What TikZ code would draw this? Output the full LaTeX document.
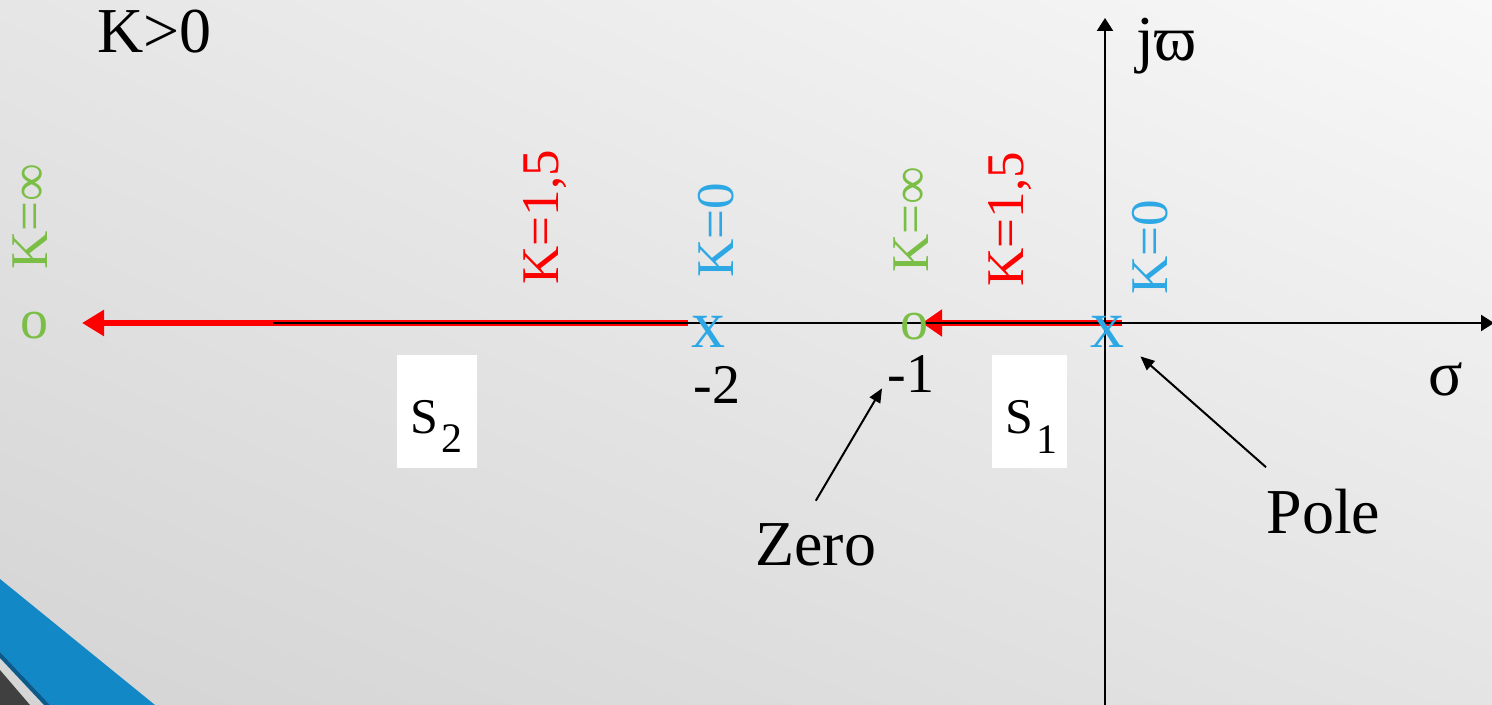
\documentclass[tikz,border=0pt]{standalone}
\usepackage{fontspec}
\setmainfont{Liberation Serif}
\usetikzlibrary{arrows.meta,shadings}
\definecolor{rlgreen}{RGB}{122,190,70}
\definecolor{rlblue}{RGB}{45,168,228}
\definecolor{rlred}{RGB}{255,0,0}
\definecolor{bandblue}{RGB}{18,136,198}
\definecolor{banddark}{RGB}{10,90,140}
\definecolor{cornergray}{RGB}{64,64,64}
\definecolor{bgul}{RGB}{230,230,230}
\definecolor{bgur}{RGB}{248,248,248}
\definecolor{bgll}{RGB}{212,212,212}
\definecolor{bglr}{RGB}{228,228,228}
\begin{document}
\begin{tikzpicture}[x=0.5pt,y=-0.5pt,
  txt/.style={inner sep=0pt, anchor=base west, font=\fontsize{32}{38}\selectfont},
  numlab/.style={inner sep=0pt, anchor=base west, font=\fontsize{28}{34}\selectfont},
  rotlab/.style={inner sep=0pt, rotate=90, anchor=base west, font=\fontsize{26.5}{30}\selectfont},
  zmark/.style={inner sep=0pt, anchor=base, text=rlgreen, font=\fontsize{28}{34}\selectfont},
  pmark/.style={inner sep=0pt, anchor=base, text=rlblue, font=\fontsize{34}{40}\selectfont},
  sbox/.style={fill=white, draw=none, minimum height=56.5pt, inner sep=0pt},
  axisline/.style={line width=1.1pt, black},
  locus/.style={line width=3pt, rlred, -{Triangle[length=11pt,width=12.5pt]}},
  pointer/.style={line width=1pt, black, -{Triangle[length=7pt,width=6pt]}}]
\useasboundingbox (0,0) rectangle (1492,705);
% background
\shade[upper left=bgul, upper right=bgur, lower left=bgll, lower right=bglr] (0,0) rectangle (1492,705);
% corner decoration
\fill[bandblue] (0,579) -- (155,705) -- (50,705) -- (0,652) -- cycle;
\fill[banddark] (0,652) -- (50,705) -- (44,705) -- (0,658) -- cycle;
\fill[cornergray] (0,670) -- (30,705) -- (0,705) -- cycle;

% axis coordinates
\coordinate (hstart) at (273,323);
\coordinate (hend) at (1494,323);
\coordinate (vbot) at (1105,710);
\coordinate (vtop) at (1105,18);
\coordinate (l2start) at (688,323);
\coordinate (l2tip) at (82,323);
\coordinate (l1start) at (1122,323);
\coordinate (l1tip) at (922,323);

% root locus branches
\draw[locus] (l2start) -- (l2tip);
\draw[locus, -{Triangle[length=10pt,width=13pt]}] (l1start) -- (l1tip);

% axes
\draw[axisline, -{Triangle[length=6.5pt,width=8pt]}] (hstart) -- (hend);
\draw[axisline, -{Triangle[length=6.5pt,width=8pt]}] (vbot) -- (vtop);

% poles and zeros
\node[zmark] (zinf) at (34,338) {o};
\node[zmark] (z1) at (914,340) {o};
\node[pmark] (p2) at (708,348) {x};
\node[pmark] (p1) at (1107,348) {x};

% gain labels
\node[rotlab, text=rlgreen] (kinf2) at (47,270) {K=∞};
\node[rotlab, text=rlred] (k15b) at (558,285) {K=1,5};
\node[rotlab, text=rlblue] (k0b) at (733,278) {K=0};
\node[rotlab, text=rlgreen] (kinf1) at (928,273) {K=∞};
\node[rotlab, text=rlred] (k15a) at (1023,287) {K=1,5};
\node[rotlab, text=rlblue] (k0a) at (1167,295) {K=0};

% texts
\node[txt] (kpos) at (97,53) {K>0};
\node[txt] (jw) at (1136,61) {jϖ};
\node[txt] (sig) at (1428,395) {σ};
\node[numlab] (m2) at (693,403) {-2};
\node[numlab] (m1) at (887,392) {-1};
\node[txt] (zero) at (755,565) {Zero};
\node[txt] (pole) at (1266,533) {Pole};

% s boxes
\node[sbox, minimum width=40pt] (s2box) at (437,411.5) {};
\node[inner sep=0pt, anchor=base west, font=\fontsize{25}{30}\selectfont] (s2) at (410,433)
  {S\hspace{1.5pt}\raisebox{-9.5pt}{\fontsize{21}{24}\selectfont 2}};
\node[sbox, minimum width=37.5pt] (s1box) at (1029.5,411.5) {};
\node[inner sep=0pt, anchor=base west, font=\fontsize{25}{30}\selectfont] (s1) at (1005,433)
  {S\hspace{1.5pt}\raisebox{-10pt}{\fontsize{21}{24}\selectfont 1}};

% pointers
\draw[pointer] ([yshift=11pt]zero.north) -- ([xshift=-2.5pt,yshift=2pt]m1.south west);
\draw[pointer] ([yshift=10.5pt]pole.north west) -- ([shift={(8pt,-4pt)}]p1.south east);
\end{tikzpicture}
\end{document}
